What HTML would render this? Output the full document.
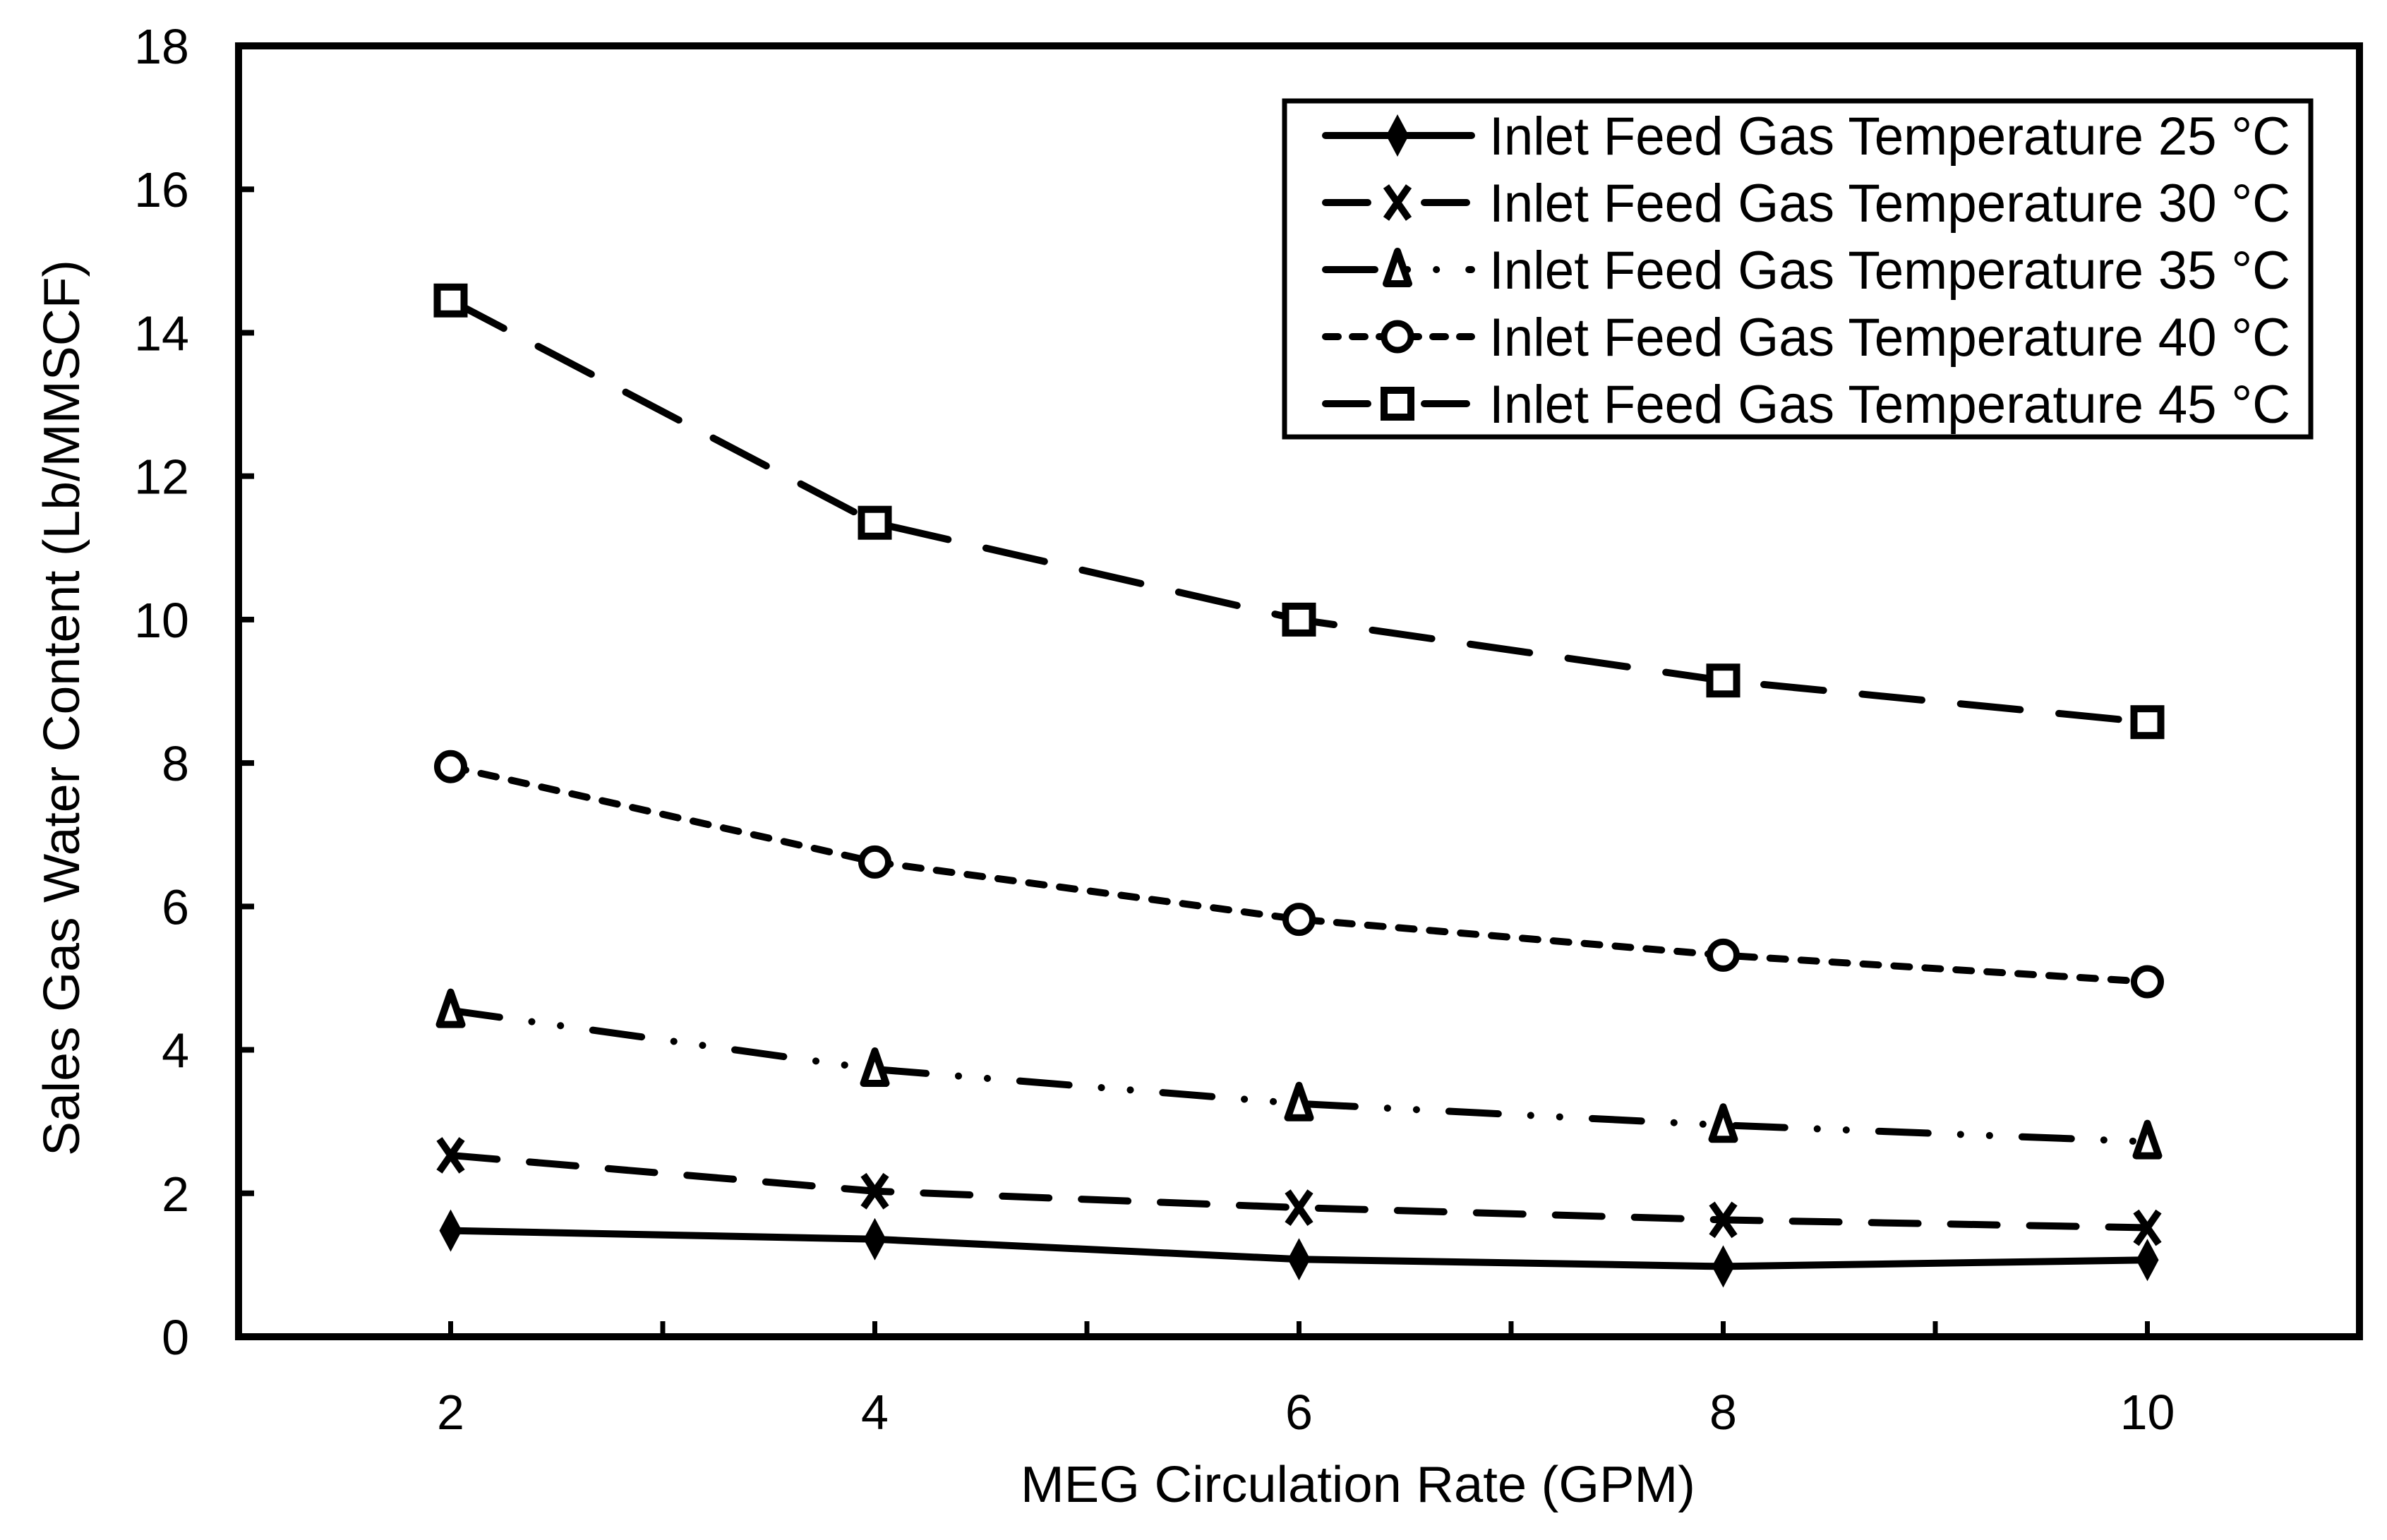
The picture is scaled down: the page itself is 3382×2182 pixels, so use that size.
<!DOCTYPE html>
<html><head><meta charset="utf-8"><style>html,body{margin:0;padding:0;background:#fff}svg{display:block}</style></head>
<body>
<svg id="chart" width="3382" height="2182" viewBox="0 0 3382 2182" xmlns="http://www.w3.org/2000/svg" font-family="'Liberation Sans', sans-serif">
<g id="plot"></g>
</svg>
<script>
const categories = [2, 4, 6, 8, 10];
const series25 = [1.48, 1.36, 1.08, 0.98, 1.07];
const series30 = [2.53, 2.03, 1.80, 1.63, 1.52];
const series35 = [4.55, 3.73, 3.25, 2.95, 2.72];
const series40 = [7.95, 6.62, 5.82, 5.32, 4.95];
const series45 = [14.45, 11.35, 10.0, 9.15, 8.57];
const seriesNames = ["Inlet Feed Gas Temperature 25 °C","Inlet Feed Gas Temperature 30 °C","Inlet Feed Gas Temperature 35 °C","Inlet Feed Gas Temperature 40 °C","Inlet Feed Gas Temperature 45 °C"];
const yTicks = [0,2,4,6,8,10,12,14,16,18];
const xTickLabels = [2,4,6,8,10];

const NS = "http://www.w3.org/2000/svg";
const L = 338, R = 3343, T = 65, B = 1894;
const xMin = 1, xMax = 11, yMin = 0, yMax = 18;
function xs(v){ return L + (v - xMin) / (xMax - xMin) * (R - L); }
function ys(v){ return B - (v - yMin) / (yMax - yMin) * (B - T); }
const g = document.getElementById('plot');
function el(tag, attrs, parent){ const e = document.createElementNS(NS, tag); for (const k in attrs) e.setAttribute(k, attrs[k]); (parent||g).appendChild(e); return e; }

const frame = el('rect', {x:L, y:T, width:R-L, height:B-T, fill:'none', stroke:'#000', 'stroke-width':10});



yTicks.forEach(v => {
  const t = el('line', {x1:L, x2:L+22, y1:ys(v), y2:ys(v), stroke:'#000', 'stroke-width':8});
  
  
  const lb = el('text', {x:L-70, y:ys(v)+25, 'font-size':70, 'text-anchor':'end'});
  lb.textContent = v;
  
  
});
for (let v = 2; v <= 10; v++) {
  const t = el('line', {x1:xs(v), x2:xs(v), y1:B, y2:B-22, stroke:'#000', 'stroke-width':7});
  
  
}
xTickLabels.forEach(v => {
  const lb = el('text', {x:xs(v), y:2025, 'font-size':70, 'text-anchor':'middle'});
  lb.textContent = v;
  
  
});
const xt = el('text', {x:1924, y:2128, 'font-size':72, 'text-anchor':'middle', textLength:956, lengthAdjust:'spacingAndGlyphs'});
xt.textContent = 'MEG Circulation Rate (GPM)';


const yt = el('text', {x:0, y:0, 'font-size':72, 'text-anchor':'middle', textLength:1270, lengthAdjust:'spacingAndGlyphs', transform:'translate(112,1003) rotate(-90)'});
yt.textContent = 'Sales Gas Water Content (Lb/MMSCF)';



const dashes = ['', '66 46', '70 46 0.1 41 0.1 46', '22 22', '85 55'];
const markers = ['diamond','x','triangle','circle','square'];
const allSeries = [series25, series30, series35, series40, series45];

function marker(type, x, y, parent){
  let m;
  if (type==='diamond') m = el('path', {d:`M${x} ${y-30}L${x+16} ${y}L${x} ${y+30}L${x-16} ${y}Z`, fill:'#000'}, parent);
  else if (type==='x') m = el('path', {d:`M${x-16} ${y-23}L${x+16} ${y+23}M${x+16} ${y-23}L${x-16} ${y+23}`, stroke:'#000', 'stroke-width':10, fill:'none'}, parent);
  else if (type==='triangle') m = el('path', {d:`M${x} ${y-26}L${x+16} ${y+20}L${x-16} ${y+20}Z`, stroke:'#000', 'stroke-width':10, fill:'#fff', 'stroke-linejoin':'round'}, parent);
  else if (type==='circle') m = el('circle', {cx:x, cy:y, r:19, stroke:'#000', 'stroke-width':9, fill:'#fff'}, parent);
  else m = el('rect', {x:x-19, y:y-19, width:38, height:38, stroke:'#000', 'stroke-width':10, fill:'#fff'}, parent);
  return m;
}

allSeries.forEach((vals, i) => {
  const sg = el('g', {});
  
  
  const pts = vals.map((v, j) => xs(categories[j]) + ',' + ys(v)).join(' ');
  const pl = el('polyline', {points:pts, fill:'none', stroke:'#000', 'stroke-width':10, 'stroke-linecap':'round', 'stroke-linejoin':'round'}, sg);
  if (dashes[i]) pl.setAttribute('stroke-dasharray', dashes[i]);
  
  
  vals.forEach((v, j) => {
    const m = marker(markers[i], xs(categories[j]), ys(v), sg);
    
    
  });
});

const lg = el('g', {});


el('rect', {x:1820, y:143, width:1454, height:476, fill:'#fff', stroke:'#000', 'stroke-width':7}, lg);
const rowY = [192, 287, 382, 477, 572];
seriesNames.forEach((name, i) => {
  const eg = el('g', {}, lg);
  
  
  const ln = el('line', {x1:1878, x2:2085, y1:rowY[i], y2:rowY[i], stroke:'#000', 'stroke-width':10, 'stroke-linecap':'round'}, eg);
  if (dashes[i]) ln.setAttribute('stroke-dasharray', i===2 ? '70 46 0.1 41 0.1 46' : (i===3 ? '18 20' : '60 80'));
  marker(markers[i], 1980, rowY[i], eg);
  const tx = el('text', {x:2110, y:rowY[i]+27, 'font-size':76, textLength:1135, lengthAdjust:'spacingAndGlyphs'}, eg);
  tx.textContent = name;
  
  
});
</script>
</body></html>
